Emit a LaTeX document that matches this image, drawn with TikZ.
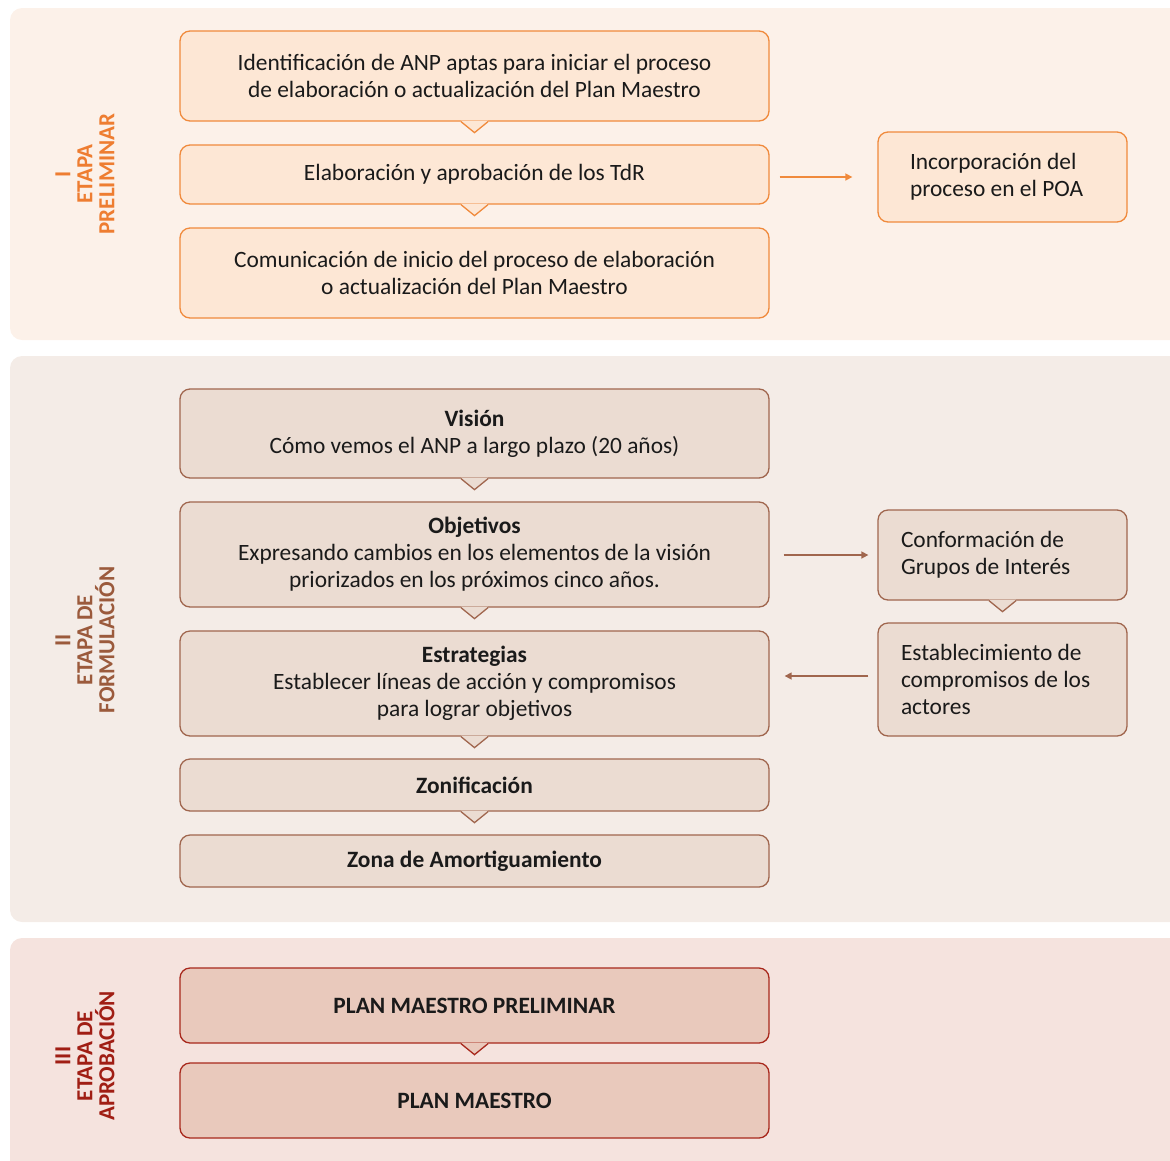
\documentclass[tikz,border=0pt]{standalone}
\usepackage{fontspec}
\setmainfont{Carlito}
\usetikzlibrary{arrows.meta}
\definecolor{pone}{HTML}{FCF1E9}
\definecolor{ptwo}{HTML}{F4ECE7}
\definecolor{pthree}{HTML}{F5E3DE}
\definecolor{ofill}{HTML}{FDE7D5}
\definecolor{odraw}{HTML}{F08A3C}
\definecolor{otext}{HTML}{EE7D31}
\definecolor{bfill}{HTML}{EBDCD2}
\definecolor{bdraw}{HTML}{A0664E}
\definecolor{btext}{HTML}{9B5A3C}
\definecolor{rfill}{HTML}{E9C9BC}
\definecolor{rdraw}{HTML}{A8281C}
\definecolor{rtext}{HTML}{A01E14}
\definecolor{ink}{HTML}{1A1A1A}
\newcommand\notchbelow[3]{%
  \fill[#2] ([xshift=-13.5pt,yshift=1pt]#1.south) -- ([yshift=-11pt]#1.south) -- ([xshift=13.5pt,yshift=1pt]#1.south) -- cycle;
  \draw[#3, line width=1.3pt, line join=miter] ([xshift=-13.5pt]#1.south) -- ([yshift=-11pt]#1.south) -- ([xshift=13.5pt]#1.south);
}
\begin{document}
\begin{tikzpicture}[x=1pt,y=-1pt,
  basebox/.style={rectangle, rounded corners=10pt, line width=1.3pt, align=center, text=ink,
     font=\fontsize{23.4}{27}\selectfont, inner sep=0pt},
  obox/.style={basebox, draw=odraw, fill=ofill, minimum width=589pt},
  bbox/.style={basebox, draw=bdraw, fill=bfill, minimum width=589pt},
  rbox/.style={basebox, draw=rdraw, fill=rfill, minimum width=589pt},
  sidebox/.style={basebox, align=flush left, minimum width=249pt},
  lbl/.style={rotate=90, align=center, font=\bfseries\fontsize{23}{22}\selectfont, inner sep=0pt},
  arr/.style={line width=1.5pt, -{Triangle[length=7pt,width=7pt]}}
]
\useasboundingbox (0,0) rectangle (1170,1160);
\clip (0,0) rectangle (1170,1160);
% panels
\fill[pone, rounded corners=12pt] (10,8) rectangle (1195,340);
\fill[ptwo, rounded corners=12pt] (10,356) rectangle (1195,922);
\fill[pthree, rounded corners=12pt] (10,938) rectangle (1195,1180);

% stage labels
\node[lbl, text=otext] (l1) at (85,174) {I\\ETAPA\\PRELIMINAR};
\node[lbl, text=btext] (l2) at (85,640) {II\\ETAPA DE\\FORMULACIÓN};
\node[lbl, text=rtext] (l3) at (85,1056) {III\\ETAPA DE\\APROBACIÓN};

% stage I
\node[obox, minimum height=90pt] (n1) at (474.5,76) {Identificación de ANP aptas para iniciar el proceso\\de elaboración o actualización del Plan Maestro};
\node[obox, minimum height=59pt] (n2) at (474.5,174.5) {Elaboración y aprobación de los TdR};
\node[obox, minimum height=90pt] (n3) at (474.5,273) {Comunicación de inicio del proceso de elaboración\\o actualización del Plan Maestro};
\node[sidebox, draw=odraw, fill=ofill, minimum height=90pt, text width=185pt, inner xsep=32pt] (poa) at (1002.5,177) {Incorporación del\\proceso en el POA};
\notchbelow{n1}{ofill}{odraw}
\notchbelow{n2}{ofill}{odraw}
\draw[arr, draw=odraw, shorten <=10pt, shorten >=25pt] (n2.east |- poa.west) -- (poa.west);

% stage II
\node[bbox, minimum height=89pt] (vis) at (474.5,433.5) {\textbf{Visión}\\Cómo vemos el ANP a largo plazo (20 años)};
\node[bbox, minimum height=105pt] (obj) at (474.5,554.5) {\textbf{Objetivos}\\Expresando cambios en los elementos de la visión\\priorizados en los próximos cinco años.};
\node[bbox, minimum height=105pt] (estr) at (474.5,683.5) {\textbf{Estrategias}\\Establecer líneas de acción y compromisos\\para lograr objetivos};
\node[bbox, minimum height=52pt] (zon) at (474.5,785) {\textbf{Zonificación}};
\node[bbox, minimum height=52pt] (zam) at (474.5,861) {\textbf{Zona de Amortiguamiento}};
\node[sidebox, draw=bdraw, fill=bfill, minimum height=90pt, text width=203pt, inner xsep=23pt] (conf) at (1002.5,555) {Conformación de\\Grupos de Interés};
\node[sidebox, draw=bdraw, fill=bfill, minimum height=113pt, text width=203pt, inner xsep=23pt] (estab) at (1002.5,679.5) {Establecimiento de\\compromisos de los\\actores};
\notchbelow{vis}{bfill}{bdraw}
\notchbelow{obj}{bfill}{bdraw}
\notchbelow{estr}{bfill}{bdraw}
\notchbelow{zon}{bfill}{bdraw}
\notchbelow{conf}{bfill}{bdraw}
\draw[arr, draw=bdraw, shorten <=14pt, shorten >=9pt] (obj.east |- conf.west) -- (conf.west);
\draw[arr, draw=bdraw, shorten <=9pt, shorten >=15pt] ([yshift=3.5pt]estab.west) -- ([yshift=3.5pt]estab.west -| estr.east);

% stage III
\node[rbox, minimum height=75pt] (pmp) at (474.5,1005.5) {\textbf{PLAN MAESTRO PRELIMINAR}};
\node[rbox, minimum height=75pt] (pm) at (474.5,1100.5) {\textbf{PLAN MAESTRO}};
\notchbelow{pmp}{rfill}{rdraw}
\end{tikzpicture}
\end{document}
